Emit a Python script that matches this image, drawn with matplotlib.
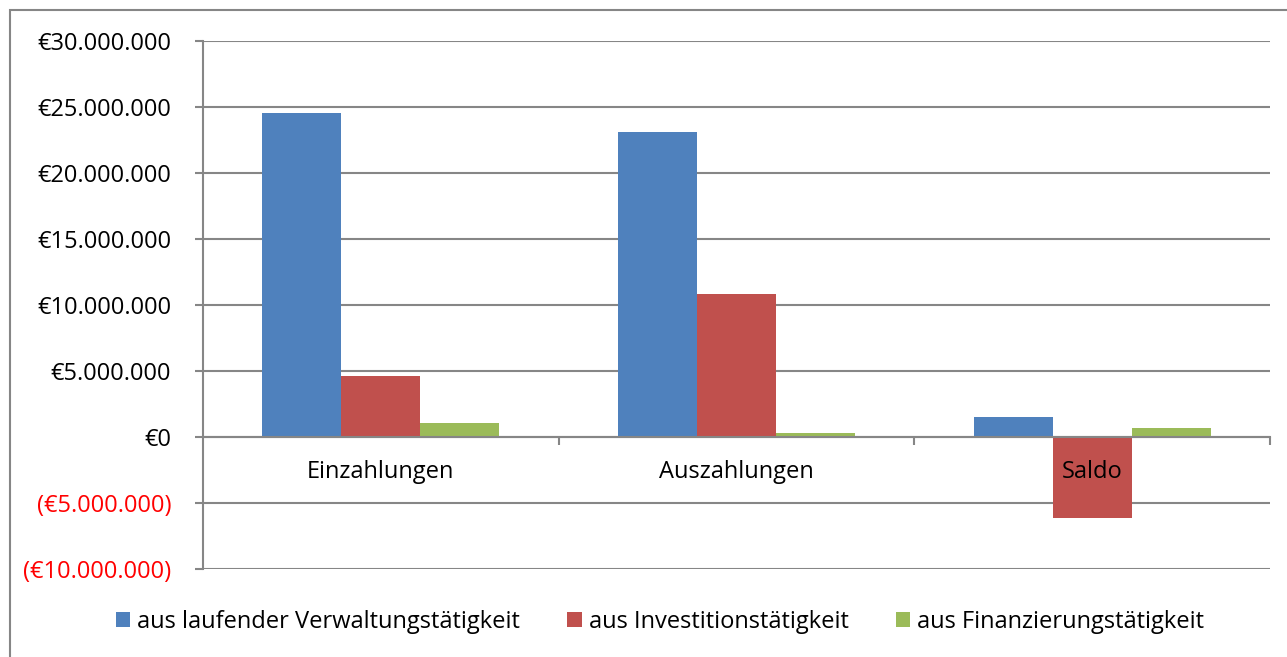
import numpy as np
import matplotlib
matplotlib.use("Agg")
import matplotlib.pyplot as plt
from matplotlib.ticker import FuncFormatter, FixedLocator
from matplotlib.patches import Rectangle

plt.rcParams['font.family'] = ['Open Sans', 'DejaVu Sans']

# data (in euro)
categories = ["Einzahlungen", "Auszahlungen", "Saldo"]
series_names = ["aus laufender Verwaltungstätigkeit",
                "aus Investitionstätigkeit",
                "aus Finanzierungstätigkeit"]
verwaltung = [24_550_000, 23_100_000, 1_490_000]
investition = [4_620_000, 10_830_000, -6_160_000]
finanzierung = [1_050_000, 280_000, 680_000]
colors = ["#4F81BD", "#C0504D", "#9BBB59"]

W, H = 1287, 657
fig = plt.figure(figsize=(W / 100, H / 100), dpi=100)
ax = fig.add_axes([203 / W, 1 - 569 / H, (1270 - 203) / W, (569 - 41) / H])

# outer chart border
fig.patches.append(Rectangle((10 / W, -0.1), 1.2, 1 - 10 / H + 0.1,
                             transform=fig.transFigure, fill=False,
                             edgecolor="#868686", linewidth=1.5))

x = np.arange(len(categories))
w = 0.222
for j, (vals, name) in enumerate(zip([verwaltung, investition, finanzierung], series_names)):
    ax.bar(x + (j - 1) * w, vals, width=w, color=colors[j], label=name,
           edgecolor="none", zorder=2)

ax.set_xlim(-0.5, 2.5)
ax.set_ylim(-10_000_000, 30_000_000)
ax.set_yticks(np.arange(-10_000_000, 30_000_001, 5_000_000))


def euro(v, pos):
    s = f"€{abs(int(round(v))):,}".replace(",", ".")
    return f"({s})" if v < 0 else s


ax.yaxis.set_major_formatter(FuncFormatter(euro))
ax.grid(axis="y", color="#868686", linewidth=1.5, zorder=0)
ax.set_axisbelow(True)

for sp in ["top", "right"]:
    ax.spines[sp].set_visible(False)
ax.spines["left"].set_color("#868686")
ax.spines["left"].set_linewidth(1.5)
ax.spines["bottom"].set_position(("data", 0))
ax.spines["bottom"].set_color("#868686")
ax.spines["bottom"].set_linewidth(1.5)

ax.tick_params(axis="y", length=6, width=1.5, color="#868686", labelsize=17, pad=17)
ax.set_xticks([])
ax.xaxis.set_minor_locator(FixedLocator([0.5, 1.5, 2.5]))
ax.tick_params(axis="x", which="minor", length=6, width=1.5, color="#868686", direction="out")

for lbl, v in zip(ax.get_yticklabels(), ax.get_yticks()):
    lbl.set_color("red" if v < 0 else "black")

for i, c in enumerate(categories):
    ax.annotate(c, xy=(i, 0), xytext=(0, -25), textcoords="offset points",
                ha="center", va="center", fontsize=17, zorder=5)

fig.legend(loc="center", bbox_to_anchor=(660 / W, 1 - 622 / H), ncol=3,
           frameon=False, fontsize=17, handlelength=0.6, handleheight=0.6,
           handletextpad=0.3, columnspacing=2.0)

fig.savefig("out.png", dpi=100)
